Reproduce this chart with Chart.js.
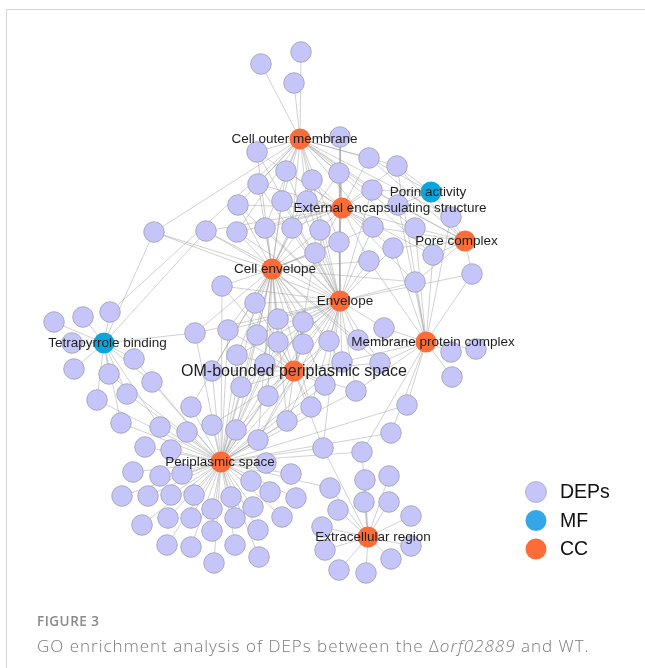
<!DOCTYPE html>
<html><head><meta charset="utf-8">
<script src="https://cdn.jsdelivr.net/npm/chart.js@4.4.0/dist/chart.umd.min.js"></script>
<style>
html,body{margin:0;padding:0;background:#fff;}
#wrap{position:relative;width:645px;height:668px;overflow:hidden;background:#fff;}
#frame{position:absolute;left:6px;top:9px;width:700px;height:700px;border-left:1px solid #d6d6d6;border-top:1px solid #d6d6d6;}
#c{position:absolute;left:0;top:0;}
.fig{position:absolute;left:37px;top:614px;font:600 13.5px/14px "Open Sans",sans-serif;color:#8a8a8a;letter-spacing:0.5px;}
.cap{position:absolute;left:37px;top:637px;font:300 17px/18px "Open Sans",sans-serif;color:#7a7a7a;white-space:nowrap;letter-spacing:1px;}
</style></head>
<body>
<div id="wrap">
<div id="frame"></div>
<canvas id="c" width="645" height="668"></canvas>
<div class="fig">FIGURE 3</div>
<div class="cap">GO enrichment analysis of DEPs between the Δ<i>orf02889</i> and WT.</div>
</div>
<script>
// ---- GO terms ----
const termNames = ["Cell outer membrane","External encapsulating structure","Porin activity","Pore complex","Cell envelope","Envelope","Tetrapyrrole binding","Membrane protein complex","OM-bounded periplasmic space","Periplasmic space","Extracellular region"];
const termType  = ["CC","CC","MF","CC","CC","CC","MF","CC","CC","CC","CC"];
const termX = [300,342,431,465,272,340,104,426,294,221,368];
const termY = [139,208,192,241,269,301,343,342,371,462,537];

// ---- DEP nodes (layout positions) ----
const depX = [261,301,294,340,257,369,397,286,339,258,312,372,282,307,238,398,451,154,206,237,265,292,320,339,373,415,315,369,393,433,472,415,
222,255,278,303,195,228,257,278,303,329,358,384,237,265,342,380,451,476,452,212,241,268,325,356,311,287,407,391,362,323,212,236,258,191,
54,83,110,72,74,134,109,152,127,97,121,160,187,145,171,
133,160,182,122,148,171,194,212,142,168,191,167,191,214,212,235,235,258,259,231,253,270,282,296,291,251,266,
330,338,365,389,364,389,411,322,325,411,391,339,366];
const depY = [64,52,83,137,152,158,166,171,173,184,180,190,201,201,205,205,217,232,231,232,228,228,230,242,227,228,253,261,248,255,274,282,
286,303,319,322,333,330,335,342,344,341,340,328,355,364,362,363,352,349,377,371,387,396,385,391,407,421,405,433,452,448,425,430,440,407,
322,317,312,343,369,359,374,382,394,400,423,427,432,447,450,
472,476,474,496,496,495,495,509,525,518,518,545,547,563,531,518,545,530,557,497,507,492,517,498,474,481,463,
488,510,480,476,502,502,516,527,550,546,559,570,573];

// ---- gene -> term memberships (edges) ----
const depTerms = [
[0],[0],[0],[0,1,5],[0,1,4,5],[0,1,2,3],[0,1,2,3,7],[0,1,4,5],[0,1,4,5],[0,1,4,5],[0,1,4,5],[0,1,2,3,5],[0,1,4,5],[0,1,4,5],[0,1,4,5],[0,1,2,3,7],[0,2,3,7],
[0,6,4,5],[1,4,5,6],[0,1,4,5],[0,1,4,5],[0,1,4,5],[0,1,4,5],[0,1,4,5],[0,1,3,4,5],[0,1,3,7],[1,4,5,8],[1,4,5,7],[1,3,5,7],[0,1,3,7],[3,5,7],[1,3,4,5,7],
[4,5,8,9],[4,5,8,9],[4,5,8,9],[4,5,8,9],[4,5,6,9],[4,5,8,9],[4,5,8,9],[4,5,8,9],[4,5,8,9],[4,5,8,9],[4,5,7],[5,7],[4,5,8,9],[4,5,8,9],[4,5,7,8,9],[4,5,7,8],
[7],[7],[7],[4,8,9],[4,5,8,9],[4,5,8,9],[4,5,8,9],[5,7,8,9],[4,5,8,9],[4,5,8,9],[7,9],[7,9],[7,9,10],[5,8,9,10],[8,9],[4,8,9],[4,5,8,9],[4,9],
[6],[6],[0,6],[6],[6],[6,9],[6,9],[6,9],[6,9],[6,9],[6,9],[6,9],[9],[9],[9],
[9],[9],[9],[9],[9],[9],[9],[9],[9],[9],[9],[9],[9],[9],[9],[9],[9],[9],[9],[9],[9],[9],[9],[9],[9],[9],[9],
[9,10],[10],[10],[10],[10],[10],[10],[10],[10],[10],[10],[10],[10]
];

// ---- styling config ----
const labelDx = [-5.5,48,-3,-8.5,3,5,3.5,7,0,-1,5];
const labelFont = ["13.5px","13.5px","13.5px","13.5px","13.5px","13.5px","13.5px","13.5px","16px","13.5px","13.5px"];
const COL = {DEP:'#C5C5F9', MF:'#08A6DE', CC:'#FB6C39'};

const edgeData = [];
depTerms.forEach((ts,i)=>ts.forEach(t=>{
  edgeData.push({x:depX[i],y:depY[i]},{x:termX[t],y:termY[t]},{x:null,y:null});
}));
const depData = depX.map((x,i)=>({x, y:depY[i]}));
const mfData = [], ccData = [];
termNames.forEach((n,i)=>{ (termType[i]==='MF'?mfData:ccData).push({x:termX[i],y:termY[i]}); });

const labelPlugin = {
  id:'labels',
  afterDatasetsDraw(chart){
    const c = chart.ctx, xs = chart.scales.x, ys = chart.scales.y;
    c.save();
    c.fillStyle = '#1e1e1e';
    c.textAlign = 'center'; c.textBaseline = 'middle';
    termNames.forEach((n,i)=>{
      c.font = labelFont[i] + ' "Liberation Sans", Arial, sans-serif';
      c.fillText(n, xs.getPixelForValue(termX[i]) + labelDx[i], ys.getPixelForValue(termY[i]) + 0.5);
    });
    // legend
    const items = [['DEPs',COL.DEP,true],['MF','#35A6E6',false],['CC',COL.CC,false]];
    items.forEach((it,k)=>{
      const cy = 492 + k*28.5;
      c.beginPath(); c.arc(536, cy, 10.5, 0, Math.PI*2);
      c.fillStyle = it[1]; c.fill();
      if (it[2]) { c.strokeStyle='#a8a8b8'; c.lineWidth=0.8; c.stroke(); }
      c.fillStyle = '#111';
      c.textAlign = 'left';
      c.font = '19.5px "Liberation Sans", Arial, sans-serif';
      c.fillText(it[0], 560, cy + 1);
    });
    c.restore();
  }
};

new Chart(document.getElementById('c'), {
  type:'scatter',
  data:{datasets:[
    {label:'CC', data:ccData, backgroundColor:COL.CC, borderWidth:0, pointRadius:10.5, order:1, clip:false},
    {label:'MF', data:mfData, backgroundColor:COL.MF, borderWidth:0, pointRadius:10.5, order:2, clip:false},
    {label:'DEPs', data:depData, backgroundColor:COL.DEP, borderColor:'#9d9db0', borderWidth:0.8, pointRadius:10.3, order:3, clip:false},
    {label:'edges', data:edgeData, showLine:true, spanGaps:false, pointRadius:0, borderColor:'rgba(150,150,150,0.55)', borderWidth:0.8, order:4, clip:false}
  ]},
  options:{
    responsive:false, animation:false,
    layout:{padding:0, autoPadding:false},
    plugins:{legend:{display:false}, tooltip:{enabled:false}},
    events:[],
    scales:{
      x:{type:'linear', min:0, max:645, display:false},
      y:{type:'linear', min:0, max:668, reverse:true, display:false}
    }
  },
  plugins:[labelPlugin]
});
</script>
</body></html>
